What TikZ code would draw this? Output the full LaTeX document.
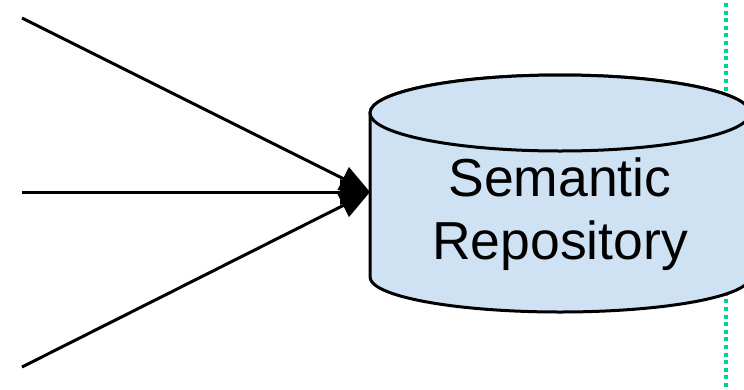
\documentclass[tikz,border=0pt]{standalone}
\usepackage{fontspec}
\setmainfont{Liberation Sans}
\usetikzlibrary{arrows.meta}
\definecolor{repofill}{HTML}{CFE2F3}
\definecolor{sepgreen}{RGB}{0,208,150}
\tikzset{
  feed/.style={line width=3pt, -{Triangle[length=30pt,width=25pt]}},
  repoline/.style={line width=3pt, draw=black, fill=repofill},
  separator/.style={line width=4pt, draw=sepgreen, dash pattern=on 4pt off 3.6pt},
}
\begin{document}
\begin{tikzpicture}[x=1pt,y=-1pt]
  \useasboundingbox (0,0) rectangle (744,389);
  \clip (0,0) rectangle (744,389);

  % dotted separator behind the repository
  \coordinate (sepTop) at (726,3);
  \coordinate (sepBot) at (726,389);
  \draw[separator] (sepTop) -- (sepBot);

  % cylinder body (y grows downward here) and top face
  \path[repoline] (370,113) -- (370,277)
    arc[start angle=180, end angle=0, x radius=190, y radius=35]
    -- (750,113)
    arc[start angle=0, end angle=-180, x radius=190, y radius=38] -- cycle;
  \draw[repoline] (560,113) ellipse[x radius=190, y radius=38];

  \node[align=center, font=\fontsize{53.5}{63}\selectfont] (repo) at (560,214)
    {Semantic\\Repository};

  % incoming feeds
  \coordinate (inA) at (22,18);
  \coordinate (inB) at (22,192);
  \coordinate (inC) at (22,367);
  \coordinate (dock) at (370,192);
  \draw[feed] (inA) -- (dock);
  \draw[feed] (inB) -- (dock);
  \draw[feed] (inC) -- (dock);
\end{tikzpicture}
\end{document}
